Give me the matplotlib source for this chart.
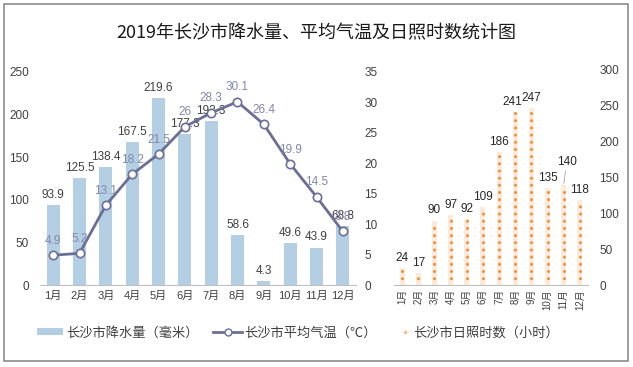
import matplotlib.pyplot as plt
from matplotlib.patches import Patch, Rectangle
from matplotlib.lines import Line2D
import numpy as np

plt.rcParams['font.family'] = ['Liberation Sans', 'Noto Sans CJK SC', 'DejaVu Sans']

# Data
months = ['1月', '2月', '3月', '4月', '5月', '6月', '7月', '8月', '9月', '10月', '11月', '12月']
rainfall = [93.9, 125.5, 138.4, 167.5, 219.6, 177.3, 192.3, 58.6, 4.3, 49.6, 43.9, 68.8]
temperature = [4.9, 5.2, 13.1, 18.2, 21.5, 26, 28.3, 30.1, 26.4, 19.9, 14.5, 8.8]
sunshine = [24, 17, 90, 97, 92, 109, 186, 241, 247, 135, 140, 118]

bar_blue = '#b4cfe3'
line_col = '#6b6f96'
temp_lbl = '#8286aa'
orange = '#f0913c'
grid_col = '#bfbfbf'

W, H = 633, 367
fig = plt.figure(figsize=(W / 100, H / 100), dpi=100)

# outer frame
fig.patches.append(Rectangle((4 / W, 6 / H), 624 / W, 357 / H, transform=fig.transFigure,
                             fill=False, edgecolor='#8c8c8c', linewidth=1.2))

fig.text(0.5, 1 - 33 / H, '2019年长沙市降水量、平均气温及日照时数统计图',
         ha='center', va='center', fontsize=13, family=['Noto Sans CJK SC'], color='#1a1a1a')

# ---- chart 1: rainfall + temperature ----
ax1 = fig.add_axes([40 / W, 1 - 285 / H, 316 / W, 213 / H])
x = np.arange(len(months))
ax1.bar(x, rainfall, width=0.5, color=bar_blue)
ax1.set_xlim(-0.5, 11.5)
ax1.set_ylim(0, 250)
ax1.set_yticks(range(0, 251, 50))
ax1.set_xticks(x)
ax1.set_xticklabels(months, fontsize=8, color='#404040')
for v, xi in zip(rainfall, x):
    ax1.annotate(f'{v:g}', (xi, v), xytext=(0, 3), textcoords='offset points',
                 ha='center', va='bottom', fontsize=8.5, color='#404040')

ax2 = ax1.twinx()
ax2.plot(x, temperature, color=line_col, linewidth=2, marker='o', markersize=6,
         markerfacecolor='white', markeredgecolor=line_col, markeredgewidth=1.2)
ax2.set_ylim(0, 35)
ax2.set_yticks(range(0, 36, 5))
for v, xi in zip(temperature, x):
    ax2.annotate(f'{v:g}', (xi, v), xytext=(0, 6), textcoords='offset points',
                 ha='center', va='bottom', fontsize=8.5, color=temp_lbl)

for a in (ax1, ax2):
    for s in a.spines.values():
        s.set_visible(False)
    a.tick_params(length=0, labelsize=8.5, labelcolor='#404040')
ax1.spines['bottom'].set_visible(True)
ax1.spines['bottom'].set_color(grid_col)
ax1.tick_params(axis='y', pad=8)
ax2.tick_params(axis='y', pad=6)
ax1.tick_params(axis='x', pad=4, labelsize=8)

# ---- chart 2: sunshine (dotted columns) ----
ax3 = fig.add_axes([394 / W, 1 - 285 / H, 194 / W, 215 / H])
ax3.bar(x, sunshine, width=0.3, color='#fdeadb', linewidth=0)
dots = ax3.vlines(x, 0, sunshine, colors=orange, linewidth=2.2,
                  linestyles=[(2.5, (0.05, 2.3))])
dots.set_capstyle('round')
ax3.set_xlim(-0.5, 11.5)
ax3.set_ylim(0, 300)
ax3.set_yticks(range(0, 301, 50))
ax3.yaxis.tick_right()
ax3.set_xticks(x)
ax3.set_xticklabels(months, fontsize=7, rotation=90, color='#404040')
for s in ax3.spines.values():
    s.set_visible(False)
ax3.spines['bottom'].set_visible(True)
ax3.spines['bottom'].set_color(grid_col)
ax3.tick_params(length=0, labelsize=8.5, labelcolor='#404040')
ax3.tick_params(axis='y', pad=8)
ax3.tick_params(axis='x', pad=3, labelsize=7)

for v, xi in zip(sunshine, x):
    if v == 140:
        ax3.annotate(f'{v}', (xi, v), xytext=(2, 12), textcoords='offset points',
                     ha='center', va='bottom', fontsize=8.5, color='#262626',
                     arrowprops=dict(arrowstyle='-', color='#a6a6a6', lw=0.6, shrinkA=0, shrinkB=1))
    else:
        dx = -2 if v == 241 else 0
        ax3.annotate(f'{v}', (xi, v), xytext=(dx, 3), textcoords='offset points',
                     ha='center', va='bottom', fontsize=8.5, color='#262626')

# ---- legend ----
ly = 1 - 333 / H
h1 = Patch(facecolor=bar_blue, edgecolor='none')
h2 = Line2D([], [], color=line_col, linewidth=2, marker='o', markersize=5,
            markerfacecolor='white', markeredgecolor=line_col)
h3 = Line2D([], [], color=orange, linestyle='none', marker='o', markersize=2.5,
            markeredgecolor='#fdeadb')
common = dict(frameon=False, fontsize=9.5, borderpad=0, borderaxespad=0, handletextpad=0.2,
              labelcolor='#404040', loc='center left')
fig.legend([h1], ['长沙市降水量（毫米）'], bbox_to_anchor=(37 / W, ly), handlelength=2,
           handleheight=0.5, **common)
fig.legend([h2], ['长沙市平均气温（℃）'], bbox_to_anchor=(213 / W, ly), handlelength=2.2, **common)
fig.legend([h3], ['长沙市日照时数（小时）'], bbox_to_anchor=(400 / W, ly), handlelength=0.8, **common)

fig.savefig('out.png', dpi=100)
